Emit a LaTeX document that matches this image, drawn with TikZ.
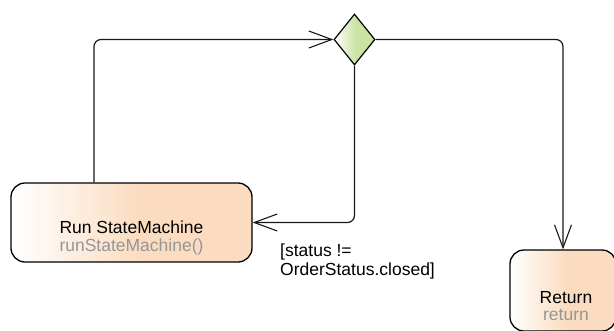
\documentclass[tikz,border=0pt]{standalone}
\usepackage{fontspec}
\setmainfont{Liberation Sans}
\usetikzlibrary{shapes.geometric,arrows.meta}
\definecolor{peach}{RGB}{251,220,192}
\definecolor{lgreen}{RGB}{203,227,162}
\definecolor{optext}{RGB}{150,150,150}
\pgfdeclarehorizontalshading{peachshade}{100bp}{color(0bp)=(white); color(25bp)=(white); color(52bp)=(peach); color(100bp)=(peach)}
\pgfdeclarehorizontalshading{greenshade}{100bp}{color(0bp)=(white); color(25bp)=(white); color(52bp)=(lgreen); color(100bp)=(lgreen)}
\tikzset{
  actbox/.style={draw=black, line width=1.3pt, rounded corners=14pt, shading=peachshade, inner sep=0pt},
  decbox/.style={draw=black, line width=1.2pt, diamond, shading=greenshade, inner sep=0pt, minimum width=41pt, minimum height=51pt},
  txt/.style={anchor=base, inner sep=0pt, font=\fontsize{17.5}{18}\selectfont},
  optxt/.style={txt, text=optext},
  flow/.style={draw=black!90, line width=1.2pt, rounded corners=7pt, -{Straight Barb[length=23pt,width=17pt,line width=1.1pt]}},
}
\begin{document}
\begin{tikzpicture}[x=1pt,y=-1pt]
\useasboundingbox (0,0) rectangle (614,330);
\node[actbox, minimum width=241pt, minimum height=79pt] (run) at (131.5,222.5) {};
\node[txt] (runname) at (131.5,233) {Run StateMachine};
\node[optxt] (runop) at (131.5,251) {runStateMachine()};
\node[actbox, minimum width=106pt, minimum height=81pt] (ret) at (563,290.5) {};
\node[txt] (retname) at (566,303) {Return};
\node[optxt] (retop) at (566,320) {return};
\node[decbox] (dec) at (354.5,39.5) {};
\draw[flow] ([xshift=-37.5pt]run.north) |- (dec.west);
\draw[flow] (dec.south) |- (run.east);
\draw[flow] (dec.east) -| (ret.north);
\node[anchor=base west, align=left, inner sep=0pt, font=\fontsize{17.5}{18.5}\selectfont] (guard) at (280,275) {[status !=\\OrderStatus.closed]};
\end{tikzpicture}
\end{document}
